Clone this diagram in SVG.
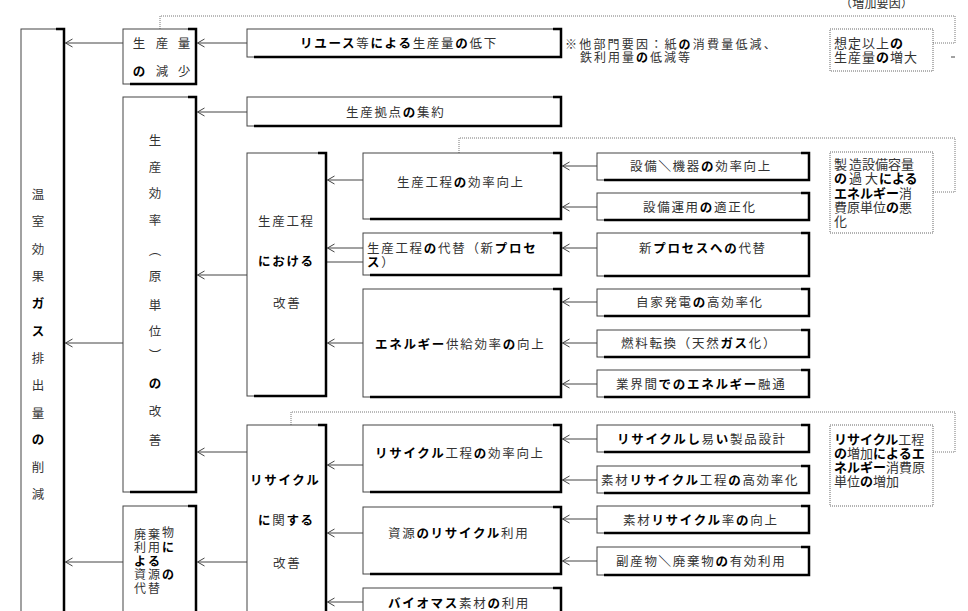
<svg xmlns="http://www.w3.org/2000/svg" width="968" height="611" viewBox="0 0 968 611">
<style>
.box{fill:#fff;stroke:#444;stroke-width:1}
.sh{fill:none;stroke:#000;stroke-width:2.5}
.dbox{fill:#fff;stroke:#666;stroke-width:1;stroke-dasharray:1 1}
.dot{fill:none;stroke:#777;stroke-width:1;stroke-dasharray:1 1}
.ln{stroke:#444;stroke-width:1;fill:none}
.t{font-family:"Noto Sans CJK JP","Noto Sans CJK SC",sans-serif;font-size:12.5px;letter-spacing:1.7px;fill:#333}
.b{font-weight:bold;fill:#000}
.s{font-size:13px;letter-spacing:0}
.v{text-anchor:middle;letter-spacing:0}
</style>
<defs>
<marker id="ah" viewBox="-8 -5 10 10" refX="0" refY="0" markerWidth="10" markerHeight="10" markerUnits="userSpaceOnUse" orient="auto"><path d="M-7,-4 L0,0 L-7,4" fill="none" stroke="#444" stroke-width="1"/></marker>
</defs>
<rect width="968" height="611" fill="#fff"/>

<g id="connectors">
<path class="dot" d="M160,29 V16 H955 V43 H933"/>
<path class="dot" d="M459,153 V138 H955 V192 H933"/>
<path class="dot" d="M291,425 V412 H955 V452 H933"/>
<line class="ln" x1="951" y1="57" x2="955" y2="57" stroke="#999"/>
<g class="ln" marker-end="url(#ah)">
<line x1="123" y1="43" x2="65.5" y2="43"/>
<line x1="247" y1="43" x2="197.5" y2="43"/>
<line x1="247" y1="112" x2="197.5" y2="112"/>
<line x1="123" y1="343" x2="65.5" y2="343"/>
<line x1="247" y1="275" x2="197.5" y2="275"/>
<line x1="363" y1="180" x2="327.5" y2="180"/>
<line x1="363" y1="248" x2="327.5" y2="248"/>
<line x1="363" y1="343" x2="327.5" y2="343"/>
<line x1="597" y1="166" x2="562.5" y2="166"/>
<line x1="597" y1="207" x2="562.5" y2="207"/>
<line x1="597" y1="248" x2="562.5" y2="248"/>
<line x1="597" y1="302" x2="562.5" y2="302"/>
<line x1="597" y1="343" x2="562.5" y2="343"/>
<line x1="597" y1="384" x2="562.5" y2="384"/>
<line x1="247" y1="452" x2="197.5" y2="452"/>
<line x1="247" y1="562" x2="197.5" y2="562"/>
<line x1="123" y1="562" x2="65.5" y2="562"/>
<line x1="363" y1="465" x2="327.5" y2="465"/>
<line x1="363" y1="533" x2="327.5" y2="533"/>
<line x1="363" y1="602" x2="327.5" y2="602"/>
<line x1="597" y1="439" x2="562.5" y2="439"/>
<line x1="597" y1="480" x2="562.5" y2="480"/>
<line x1="597" y1="519" x2="562.5" y2="519"/>
<line x1="597" y1="561" x2="562.5" y2="561"/>
</g>
<line class="ln" x1="363" y1="262" x2="327" y2="262"/>
</g>

<g id="main">
<rect class="box" x="21" y="29" width="43" height="620"/>
<path class="sh" d="M56,29 H64 V640"/>
<text class="t v"><tspan x="38" y="199">温</tspan><tspan x="38" y="226">室</tspan><tspan x="38" y="253.5">効</tspan><tspan x="38" y="281">果</tspan><tspan class="b" x="38" y="308">ガ</tspan><tspan class="b" x="38" y="335.5">ス</tspan><tspan x="38" y="362.5">排</tspan><tspan x="38" y="390">出</tspan><tspan x="38" y="417.5">量</tspan><tspan class="b" x="38" y="444">の</tspan><tspan x="38" y="472">削</tspan><tspan x="38" y="499">減</tspan></text>
</g>

<g id="prod">
<rect class="box" x="123" y="29" width="73" height="55"/>
<path class="sh" d="M188,29 H196 V84 H130"/>
<text class="t v"><tspan x="139" y="48">生</tspan><tspan x="162" y="48">産</tspan><tspan x="184" y="48">量</tspan><tspan class="b" x="139" y="76">の</tspan><tspan x="162" y="76">減</tspan><tspan x="184" y="76">少</tspan></text>
</g>

<g id="reuse">
<rect class="box" x="247" y="29" width="314" height="28"/>
<path class="sh" d="M553,29 H561 V57 H254"/>
<text class="t" x="300" y="48"><tspan class="b">リユース</tspan>等<tspan class="b">による</tspan>生産量<tspan class="b">の</tspan>低下</text>
</g>

<g id="note">
<text class="t" x="565" y="48.5" style="font-size:12px;letter-spacing:2.2px">※他部門要因：紙<tspan class="b">の</tspan>消費量低減、</text>
<text class="t" x="580" y="62" style="font-size:12px;letter-spacing:2px">鉄利用量<tspan class="b">の</tspan>低減等</text>
<text class="t" x="840" y="8" style="font-size:12px;letter-spacing:0.2px">（増加要因）</text>
</g>

<g id="d1">
<rect class="dbox" x="830" y="29" width="103" height="42"/>
<text class="t s" x="834" y="48" style="letter-spacing:1px">想定以上<tspan class="b">の</tspan></text>
<text class="t s" x="834" y="62" style="letter-spacing:1px">生産量<tspan class="b">の</tspan>増大</text>
</g>

<g id="concent">
<rect class="box" x="247" y="97" width="314" height="29"/>
<path class="sh" d="M553,97 H561 V126 H254"/>
<text class="t" x="346" y="117">生産拠点<tspan class="b">の</tspan>集約</text>
</g>

<g id="effic">
<rect class="box" x="123" y="97" width="73" height="395"/>
<path class="sh" d="M188,97 H196 V492 H130"/>
<text class="t v"><tspan x="155" y="145">生</tspan><tspan x="155" y="172">産</tspan><tspan x="155" y="198">効</tspan><tspan x="155" y="225">率</tspan><tspan x="155" y="255">︵</tspan><tspan x="155" y="281">原</tspan><tspan x="155" y="310">単</tspan><tspan x="155" y="336">位</tspan><tspan x="155" y="360">︶</tspan><tspan class="b" x="155" y="388">の</tspan><tspan x="155" y="416">改</tspan><tspan x="155" y="445">善</tspan></text>
</g>

<g id="proc">
<rect class="box" x="247" y="153" width="79" height="243"/>
<path class="sh" d="M318,153 H326 V396 H254"/>
<text class="t" x="258" y="226">生産工程</text>
<text class="t b" x="258" y="266">における</text>
<text class="t" x="273" y="308">改善</text>
</g>

<g id="pe">
<rect class="box" x="363" y="153" width="198" height="66"/>
<path class="sh" d="M553,153 H561 V219 H370"/>
<text class="t" x="397" y="186.5">生産工程<tspan class="b">の</tspan>効率向上</text>
</g>

<g id="sub">
<rect class="box" x="363" y="233" width="198" height="42"/>
<path class="sh" d="M553,233 H561 V275 H370"/>
<text class="t" x="367" y="253">生産工程<tspan class="b">の</tspan>代替（新<tspan class="b">プロセ</tspan></text>
<text class="t" x="367" y="267"><tspan class="b">ス</tspan>）</text>
</g>

<g id="en">
<rect class="box" x="363" y="289" width="198" height="108"/>
<path class="sh" d="M553,289 H561 V397 H370"/>
<text class="t" x="375" y="349"><tspan class="b">エネルギー</tspan>供給効率<tspan class="b">の</tspan>向上</text>
</g>

<g id="r1">
<rect class="box" x="597" y="153" width="212" height="27"/>
<path class="sh" d="M801,153 H809 V180 H604"/>
<text class="t" x="630" y="171">設備<tspan class="b">＼</tspan>機器<tspan class="b">の</tspan>効率向上</text>
</g>
<g id="r2">
<rect class="box" x="597" y="193" width="212" height="27"/>
<path class="sh" d="M801,193 H809 V220 H604"/>
<text class="t" x="643" y="212">設備運用<tspan class="b">の</tspan>適正化</text>
</g>
<g id="r3">
<rect class="box" x="597" y="233" width="212" height="43"/>
<path class="sh" d="M801,233 H809 V276 H604"/>
<text class="t" x="639" y="253">新<tspan class="b">プロセスへの</tspan>代替</text>
</g>
<g id="r4">
<rect class="box" x="597" y="289" width="212" height="27"/>
<path class="sh" d="M801,289 H809 V316 H604"/>
<text class="t" x="636" y="307">自家発電<tspan class="b">の</tspan>高効率化</text>
</g>
<g id="r5">
<rect class="box" x="597" y="330" width="212" height="27"/>
<path class="sh" d="M801,330 H809 V357 H604"/>
<text class="t" x="621" y="348">燃料転換（天然<tspan class="b">ガス</tspan>化）</text>
</g>
<g id="r6">
<rect class="box" x="597" y="370" width="212" height="27"/>
<path class="sh" d="M801,370 H809 V397 H604"/>
<text class="t" x="616" y="389">業界間<tspan class="b">でのエネルギー</tspan>融通</text>
</g>

<g id="d2">
<rect class="dbox" x="830" y="152" width="103" height="81"/>
<text class="t s"><tspan x="834" y="168.5">製</tspan><tspan x="849" y="168.5">造設備容量</tspan></text>
<text class="t s"><tspan class="b" x="834" y="183">の</tspan><tspan x="849" y="183">過</tspan><tspan x="865" y="183">大</tspan><tspan class="b" x="879" y="183">による</tspan></text>
<text class="t s" x="834" y="197.5"><tspan class="b">エネルギー</tspan>消</text>
<text class="t s" x="834" y="211.5">費原単位<tspan class="b">の</tspan>悪</text>
<text class="t s" x="834" y="225.5">化</text>
</g>

<g id="rec">
<rect class="box" x="247" y="425" width="79" height="220"/>
<path class="sh" d="M318,425 H326 V640"/>
<text class="t b" x="250" y="485">リサイクル</text>
<text class="t" x="258" y="525"><tspan class="b">に</tspan>関<tspan class="b">する</tspan></text>
<text class="t" x="273" y="568">改善</text>
</g>

<g id="waste">
<rect class="box" x="123" y="506" width="73" height="130"/>
<path class="sh" d="M188,506 H196 V640"/>
<text class="t v" style="font-size:12px"><tspan x="140" y="539">廃</tspan><tspan x="154" y="539">棄</tspan><tspan x="168" y="537">物</tspan><tspan x="140" y="552">利</tspan><tspan x="154" y="552">用</tspan><tspan class="b" x="168" y="552">に</tspan><tspan class="b" x="140" y="566">よ</tspan><tspan class="b" x="154" y="566">る</tspan><tspan x="140" y="579">資</tspan><tspan x="154" y="579">源</tspan><tspan class="b" x="168" y="579">の</tspan><tspan x="140" y="593">代</tspan><tspan x="154" y="593">替</tspan></text>
</g>

<g id="rp">
<rect class="box" x="363" y="425" width="198" height="67"/>
<path class="sh" d="M553,425 H561 V492 H370"/>
<text class="t" x="375" y="458"><tspan class="b">リサイクル</tspan>工程<tspan class="b">の</tspan>効率向上</text>
</g>
<g id="rr">
<rect class="box" x="363" y="507" width="198" height="67"/>
<path class="sh" d="M553,507 H561 V574 H370"/>
<text class="t" x="388" y="538">資源<tspan class="b">のリサイクル</tspan>利用</text>
</g>
<g id="bio">
<rect class="box" x="363" y="588" width="198" height="40"/>
<path class="sh" d="M553,588 H561 V640"/>
<text class="t" x="388" y="608"><tspan class="b">バイオマス</tspan>素材<tspan class="b">の</tspan>利用</text>
</g>

<g id="r7">
<rect class="box" x="597" y="425" width="212" height="27"/>
<path class="sh" d="M801,425 H809 V452 H604"/>
<text class="t" x="617" y="444"><tspan class="b">リサイクルし</tspan>易<tspan class="b">い</tspan>製品設計</text>
</g>
<g id="r8">
<rect class="box" x="597" y="466" width="212" height="27"/>
<path class="sh" d="M801,466 H809 V493 H604"/>
<text class="t" x="601" y="485">素材<tspan class="b">リサイクル</tspan>工程<tspan class="b">の</tspan>高効率化</text>
</g>
<g id="r9">
<rect class="box" x="597" y="506" width="212" height="27"/>
<path class="sh" d="M801,506 H809 V533 H604"/>
<text class="t" x="623" y="525">素材<tspan class="b">リサイクル</tspan>率<tspan class="b">の</tspan>向上</text>
</g>
<g id="r10">
<rect class="box" x="597" y="547" width="212" height="28"/>
<path class="sh" d="M801,547 H809 V575 H604"/>
<text class="t" x="616" y="566">副産物<tspan class="b">＼</tspan>廃棄物<tspan class="b">の</tspan>有効利用</text>
</g>

<g id="d3">
<rect class="dbox" x="830" y="425" width="103" height="81"/>
<text class="t s" x="834" y="444"><tspan class="b">リサイクル</tspan>工程</text>
<text class="t s" x="834" y="458"><tspan class="b">の</tspan>増加<tspan class="b">によるエ</tspan></text>
<text class="t s" x="834" y="472"><tspan class="b">ネルギー</tspan>消費原</text>
<text class="t s" x="834" y="486">単位<tspan class="b">の</tspan>増加</text>
</g>
</svg>
